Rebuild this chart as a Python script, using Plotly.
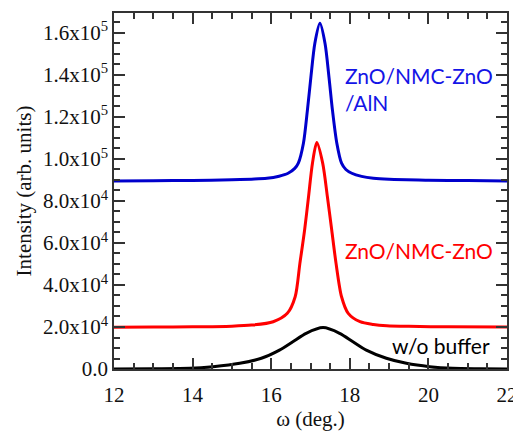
import plotly.graph_objects as go

# ---- data (intensity in units of 1000) ----
omega_blue = [12.0, 13.0, 14.0, 15.0, 15.5, 15.89, 16.2, 16.43, 16.6, 16.69, 16.82, 16.92, 17.01, 17.11, 17.24,
              17.37, 17.47, 17.56, 17.67, 17.79, 17.9, 18.05, 18.3, 18.6, 19.0, 20.0, 21.0, 22.0]
int_blue_k = [89.5, 89.6, 89.8, 90.1, 90.4, 90.8, 91.8, 93.2, 95.5, 98.0, 107.5, 123.0, 139.0, 155.0, 164.6,
              155.0, 139.0, 123.0, 107.5, 98.0, 95.0, 93.2, 91.7, 90.8, 90.3, 89.9, 89.7, 89.5]

omega_red = [12.0, 13.0, 14.0, 15.0, 15.5, 16.05, 16.41, 16.61, 16.73, 16.85, 16.95, 17.05, 17.16,
             17.31, 17.43, 17.54, 17.65, 17.79, 17.96, 18.26, 18.6, 18.94, 19.5, 20.5, 22.0]
int_red_k = [19.9, 20.0, 20.1, 20.4, 20.9, 22.5, 26.5, 34.4, 50.3, 66.2, 82.0, 98.0, 107.8,
             98.0, 82.0, 66.2, 50.3, 34.4, 26.5, 22.5, 21.2, 20.6, 20.3, 20.1, 20.0]

omega_black = [12.0, 13.0, 13.93, 14.52, 15.2, 15.75, 16.21, 16.55, 16.89, 17.32, 17.74, 18.08, 18.42,
               18.93, 19.44, 20.03, 20.62, 21.3, 22.0]
int_black_k = [0.0, 0.1, 0.3, 1.1, 2.7, 5.1, 9.0, 13.0, 17.0, 19.7, 17.0, 13.0, 9.0,
               5.1, 2.7, 1.1, 0.3, 0.1, 0.0]

y_tickvals = [0, 20000, 40000, 60000, 80000, 100000, 120000, 140000, 160000]
y_ticktext = ["0.0", "2.0x10<sup>4</sup>", "4.0x10<sup>4</sup>", "6.0x10<sup>4</sup>", "8.0x10<sup>4</sup>",
              "1.0x10<sup>5</sup>", "1.2x10<sup>5</sup>", "1.4x10<sup>5</sup>", "1.6x10<sup>5</sup>"]
x_tickvals = [12, 14, 16, 18, 20, 22]

labels = ["ZnO/NMC-ZnO<br>/AlN", "ZnO/NMC-ZnO", "w/o buffer"]

x_range = [12, 22]
y_range = [0, 169500]

fig = go.Figure()
series = [(omega_black, int_black_k, "#000000"),
          (omega_red, int_red_k, "#FF0000"),
          (omega_blue, int_blue_k, "#0000CC")]
for xs, ys, c in series:
    fig.add_trace(go.Scatter(x=xs, y=[v * 1000 for v in ys], mode="lines",
                             line=dict(color=c, width=3, shape="spline", smoothing=0.8),
                             showlegend=False, hoverinfo="skip"))

ann_font = dict(family="Lato, Liberation Sans, sans-serif", size=21)
fig.add_annotation(x=17.83, y=133500, text=labels[0], showarrow=False, xanchor="left", yanchor="middle",
                   align="left", font=dict(color="#1414E6", **ann_font))
fig.add_annotation(x=17.83, y=56500, text=labels[1], showarrow=False, xanchor="left", yanchor="middle",
                   align="left", font=dict(color="#FF0000", **ann_font))
fig.add_annotation(x=21.62, y=11000, text=labels[2], showarrow=False, xanchor="right", yanchor="middle",
                   align="right", font=dict(color="#000000", **ann_font))

serif = "Liberation Serif, Times New Roman, serif"
tick_col = "#333333"
axis_common = dict(showline=True, linecolor=tick_col, linewidth=1.5, mirror="allticks",
                   ticks="inside", ticklen=11, tickwidth=2, tickcolor=tick_col,
                   showgrid=False, zeroline=False, automargin=False,
                   tickfont=dict(family=serif, size=21, color="#111111"))

fig.update_layout(
    xaxis=dict(range=x_range, tickmode="array", tickvals=x_tickvals, ticklabelstandoff=6,
               minor=dict(ticks="inside", ticklen=6, tick0=12, dtick=0.5, tickcolor=tick_col, tickwidth=2),
               title=dict(text="ω (deg.)", standoff=6, font=dict(family=serif, size=21, color="#111111")),
               **axis_common),
    yaxis=dict(range=y_range, tickmode="array", tickvals=y_tickvals, ticktext=y_ticktext,
               minor=dict(ticks="inside", ticklen=6, tick0=0, dtick=5000, tickcolor=tick_col, tickwidth=2),
               title=dict(text="Intensity (arb. units)", standoff=6, font=dict(family=serif, size=21, color="#111111")),
               **axis_common),
    # page body has an 8px default margin, so the figure is 8px smaller than the window
    width=513, height=423, margin=dict(l=106, r=14, t=5, b=62),
    plot_bgcolor="white", paper_bgcolor="white")

fig.write_html("out.html")
